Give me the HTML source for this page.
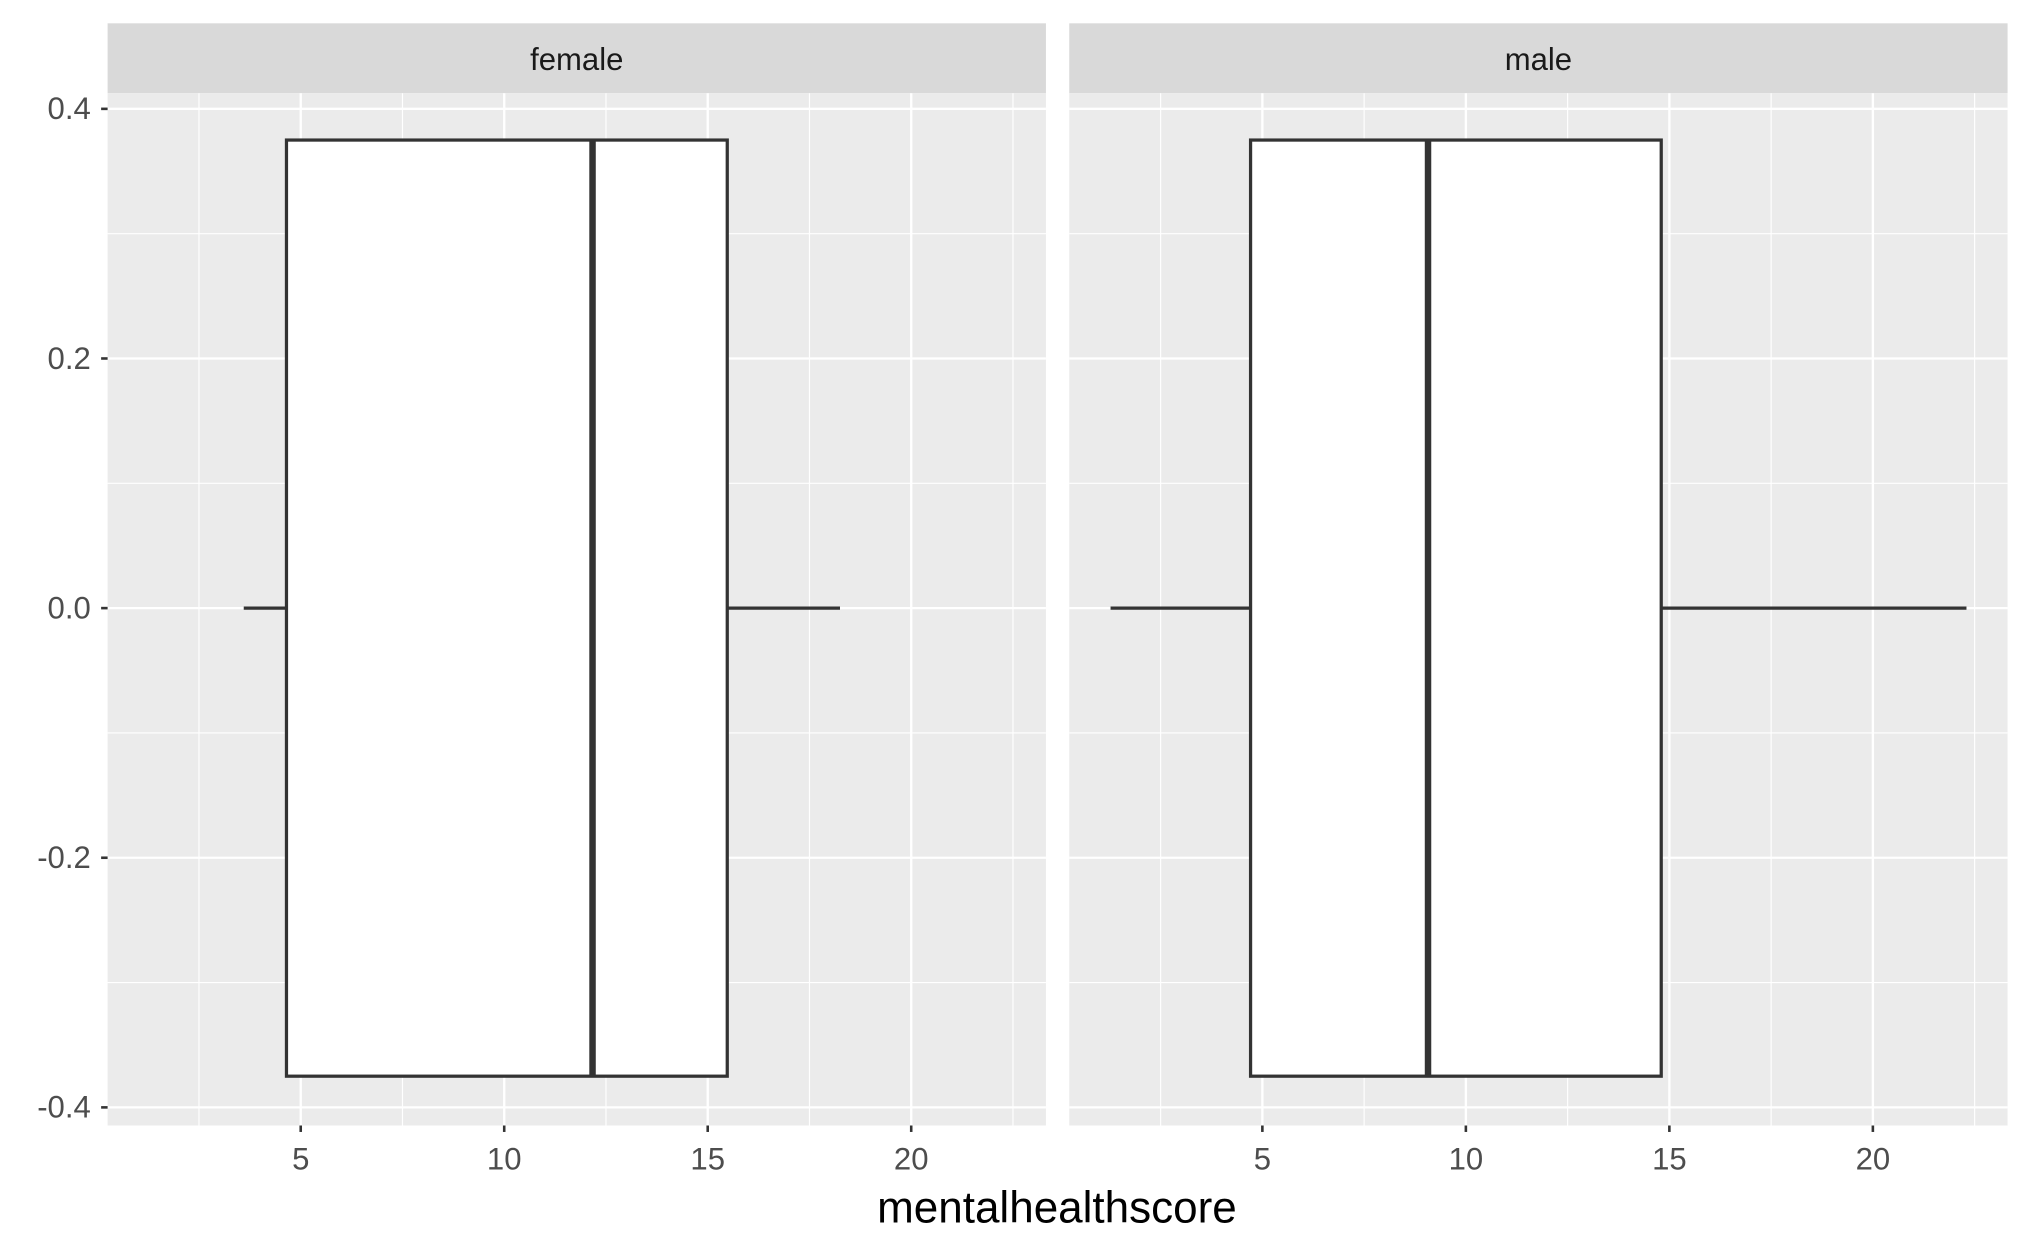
<!DOCTYPE html>
<html><head><meta charset="utf-8"><style>html,body{margin:0;padding:0;background:#fff}svg{display:block}text{font-family:"Liberation Sans",sans-serif}</style></head>
<body>
<svg id="chart" width="2031" height="1255" viewBox="0 0 1568 969" xmlns="http://www.w3.org/2000/svg"></svg>
<script>
const panels = ["female", "male"];
const whiskerLow = [3.6, 1.27];
const q1 = [4.65, 4.71];
const medians = [12.17, 9.07];
const q3 = [15.48, 14.8];
const whiskerHigh = [18.25, 22.3];
const xTicks = [5, 10, 15, 20];
const xMinor = [2.5, 7.5, 12.5, 17.5, 22.5];
const yTicks = [0.4, 0.2, 0.0, -0.2, -0.4];
const yTickLabels = ["0.4", "0.2", "0.0", "-0.2", "-0.4"];
const yMinor = [0.3, 0.1, -0.1, -0.3];

const NS = "http://www.w3.org/2000/svg";
const svg = document.getElementById("chart");
function mk(tag, attrs, parent) { const e = document.createElementNS(NS, tag); for (const k in attrs) e.setAttribute(k, attrs[k]); (parent || svg).appendChild(e); return e; }

const panelLeft = [83, 825.5], panelW = 724.5;
const plotTop = 72, plotBottom = 869;
const xMin = 0.255, xMax = 23.31, yMin = -0.4145, yMax = 0.4125;
function yS(v) { return plotBottom - (v - yMin) / (yMax - yMin) * (plotBottom - plotTop); }

panels.forEach((name, i) => {
  const L = panelLeft[i];
  const xS = v => L + (v - xMin) / (xMax - xMin) * panelW;
  const g = mk("g", {});
  
  
  const strip = mk("rect", {x: L, y: 18, width: panelW, height: 54, fill: "#D9D9D9"}, g);
  
  
  const st = mk("text", {x: L + panelW / 2, y: 54, "text-anchor": "middle", "font-size": 24, fill: "#1A1A1A"}, g);
  st.textContent = name;
  
  
  const bg = mk("rect", {x: L, y: plotTop, width: panelW, height: plotBottom - plotTop, fill: "#EBEBEB"}, g);
  
  
  xMinor.forEach(v => mk("line", {x1: xS(v), x2: xS(v), y1: plotTop, y2: plotBottom, stroke: "#fff", "stroke-width": 0.9}, g));
  yMinor.forEach(v => mk("line", {x1: L, x2: L + panelW, y1: yS(v), y2: yS(v), stroke: "#fff", "stroke-width": 0.9}, g));
  xTicks.forEach(v => {
    mk("line", {x1: xS(v), x2: xS(v), y1: plotTop, y2: plotBottom, stroke: "#fff", "stroke-width": 1.8}, g);
    mk("line", {x1: xS(v), x2: xS(v), y1: plotBottom, y2: plotBottom + 5, stroke: "#333", "stroke-width": 2}, g);
    const t = mk("text", {x: xS(v), y: 903, "text-anchor": "middle", "font-size": 24, fill: "#4D4D4D"}, g);
    t.textContent = v;
    
    
  });
  yTicks.forEach(v => mk("line", {x1: L, x2: L + panelW, y1: yS(v), y2: yS(v), stroke: "#fff", "stroke-width": 1.8}, g));
  const wl = mk("line", {x1: xS(whiskerLow[i]), x2: xS(q1[i]), y1: yS(0), y2: yS(0), stroke: "#333", "stroke-width": 2.5}, g);
  
  
  const wh = mk("line", {x1: xS(q3[i]), x2: xS(whiskerHigh[i]), y1: yS(0), y2: yS(0), stroke: "#333", "stroke-width": 2.5}, g);
  
  
  const box = mk("rect", {x: xS(q1[i]), y: yS(0.375), width: xS(q3[i]) - xS(q1[i]), height: yS(-0.375) - yS(0.375), fill: "#fff", stroke: "#333", "stroke-width": 2.5}, g);
  
  
  const med = mk("line", {x1: xS(medians[i]), x2: xS(medians[i]), y1: yS(0.375), y2: yS(-0.375), stroke: "#333", "stroke-width": 5}, g);
  
  
});

yTicks.forEach((v, j) => {
  mk("line", {x1: 78, x2: 83, y1: yS(v), y2: yS(v), stroke: "#333", "stroke-width": 2});
  const t = mk("text", {x: 70, y: yS(v) + 8, "text-anchor": "end", "font-size": 24, fill: "#4D4D4D"});
  t.textContent = yTickLabels[j];
  
  
});
const title = mk("text", {x: 816, y: 944, "text-anchor": "middle", "font-size": 34, fill: "#000"});
title.textContent = "mentalhealthscore";


</script>
</body></html>
